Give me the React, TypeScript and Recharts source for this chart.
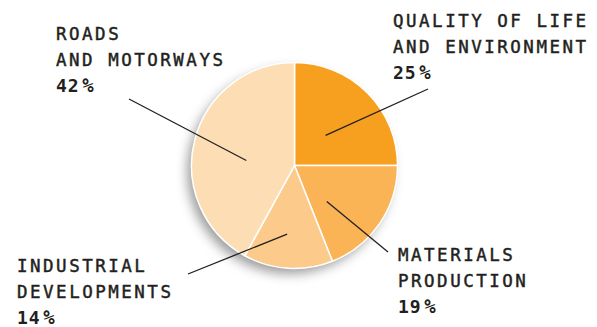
import { PieChart, Pie, Cell } from "recharts";

const NAMES = [
  ["QUALITY OF LIFE", "AND ENVIRONMENT"],
  ["MATERIALS", "PRODUCTION"],
  ["INDUSTRIAL", "DEVELOPMENTS"],
  ["ROADS", "AND MOTORWAYS"],
];
const VALUES = [25, 19, 14, 42];
const COLORS = ["#f7a01f", "#fab456", "#fccb8b", "#fdddb3"];

// where each callout sits: text block origin, leader line end, and where the line starts inside the slice
const CALLOUTS = [
  { tx: 393, ty: 27, lx: 428, ly: 89, rFrac: 0.42, shift: -1 },
  { tx: 398, ty: 261, lx: 388, ly: 252, rFrac: 0.47, shift: -14 },
  { tx: 17, ty: 272, lx: 188, ly: 274, rFrac: 0.67, shift: -2.5 },
  { tx: 56, ty: 40, lx: 129, ly: 99, rFrac: 0.47, shift: 8.5 },
];

const data = VALUES.map((v, i) => ({ name: NAMES[i].join(" "), value: v }));
const RAD = Math.PI / 180;
const LINE_H = 25.5;
const FONT = "'DejaVu Sans Mono', monospace";

const renderCallout = (props: any) => {
  const { cx, cy, midAngle, outerRadius, index } = props;
  const c = CALLOUTS[index];
  const a = (midAngle + c.shift) * RAD;
  const r = outerRadius * c.rFrac;
  const sx = cx + r * Math.cos(a);
  const sy = cy - r * Math.sin(a);
  return (
    <g key={`callout-${index}`}>
      <line x1={sx} y1={sy} x2={c.lx} y2={c.ly} stroke="#231f20" strokeWidth={1.3} />
      {NAMES[index].map((t, j) => (
        <text
          key={j}
          x={c.tx}
          y={c.ty + j * LINE_H}
          fill="#231f20"
          stroke="#231f20"
          strokeWidth={0.45}
          fontFamily={FONT}
          fontSize={17.5}
          letterSpacing={2.5}
        >
          {t}
        </text>
      ))}
      <text
        x={c.tx}
        y={c.ty + 2 * LINE_H + 1}
        fill="#231f20"
        fontFamily={FONT}
        fontSize={18}
        fontWeight="bold"
        letterSpacing={0.8}
      >
        {VALUES[index]}
        <tspan dx={3} fontSize={19}>%</tspan>
      </text>
    </g>
  );
};

export default function App() {
  return (
    <div style={{ position: "absolute", left: 0, top: 0, width: 597, height: 327, background: "#fff" }}>
      <PieChart width={597} height={327} margin={{ top: 0, right: 0, bottom: 0, left: 0 }}>
        <defs>
          <filter id="pieShadow" x="-30%" y="-30%" width="160%" height="160%">
            <feDropShadow dx={-5} dy={6} stdDeviation={6} floodColor="#000" floodOpacity={0.4} />
          </filter>
        </defs>
        <Pie
          data={[{ value: 1 }]}
          dataKey="value"
          cx={294.5}
          cy={165.5}
          outerRadius={102}
          startAngle={90}
          endAngle={-270}
          fill="#fff"
          stroke="none"
          style={{ filter: "url(#pieShadow)" }}
          isAnimationActive={false}
        />
        <Pie
          data={data}
          dataKey="value"
          cx={294.5}
          cy={165.5}
          outerRadius={103}
          startAngle={90}
          endAngle={-270}
          stroke="#fff"
          strokeWidth={1.5}
          label={renderCallout}
          labelLine={false}
          isAnimationActive={false}
        >
          {data.map((d, i) => (
            <Cell key={`cell-${i}`} fill={COLORS[i]} />
          ))}
        </Pie>
      </PieChart>
    </div>
  );
}
